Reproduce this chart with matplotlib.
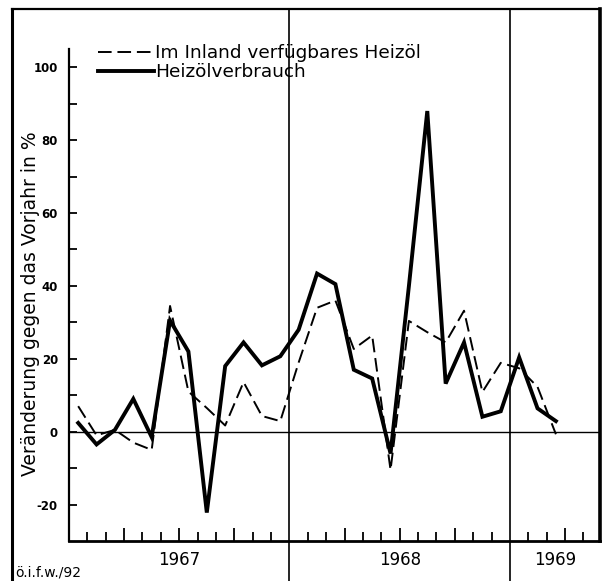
import numpy as np
import matplotlib
matplotlib.use("Agg")
import matplotlib.pyplot as plt
from matplotlib.lines import Line2D
from matplotlib.ticker import FixedLocator
from matplotlib import transforms

plt.rcParams["axes.unicode_minus"] = False

# --- Data (monthly change vs. previous year, %) Jan 1967 .. Mar 1969 ---
years = [1967, 1968, 1969]
heizoel_inland = [7, -1, 0.5, -3, -5, 34.5, 11, 6.5, 1.7, 13.6, 4.3, 2.9,
                  19, 34, 36, 22.7, 26.4, -10.5, 30.4, 27.3, 24.5, 33.2, 10.9, 18.9,
                  17.4, 12.3, -0.7]
heizoel_verbrauch = [2.4, -3.5, 0.5, 9, -1.5, 30.5, 22, -22.2, 18, 24.5, 18.2, 20.7,
                     28, 43.4, 40.5, 17, 14.6, -6, 40, 88, 13.2, 24.5, 4.1, 5.6,
                     20.4, 6.4, 2.9]
label_inland = "Im Inland verfügbares Heizöl"
label_verbrauch = "Heizölverbrauch"
ylabel = "Veränderung gegen das Vorjahr in %"
source = "ö.i.f.w./92"

W, H = 606, 581
x_max = 28.9
y_min, y_max = -30, 116

months = np.arange(len(heizoel_inland)) + 0.5

fig = plt.figure(figsize=(W / 100, H / 100), dpi=100)
ax = fig.add_axes([69 / W, 40 / H, 531 / W, 532 / H])

ax.plot(months, heizoel_inland, color="black", lw=1.4, ls=(0, (7, 3)),
        label=label_inland)
ax.plot(months, heizoel_verbrauch, color="black", lw=2.8,
        solid_joinstyle="miter", label=label_verbrauch)

ax.axhline(0, color="black", lw=1.0)
for k in range(1, len(years)):
    ax.axvline(12 * k, ymin=-40 / 532, ymax=1, color="black", lw=1.2, clip_on=False)

ax.set_xlim(0, x_max)
ax.set_ylim(y_min, y_max)

# spines
ax.spines["top"].set_visible(False)
ax.spines["left"].set_bounds(y_min, 105)
ax.spines["left"].set_linewidth(1.6)
ax.spines["bottom"].set_linewidth(2.0)
ax.spines["right"].set_linewidth(2.6)

# y ticks
ax.yaxis.set_major_locator(FixedLocator(np.arange(-20, 101, 20)))
ax.yaxis.set_minor_locator(FixedLocator(np.arange(-10, 91, 20)))
ax.tick_params(axis="y", which="both", direction="in", length=6, width=1.3, pad=8)
ax.tick_params(axis="y", labelsize=8.5)
for t in ax.get_yticklabels():
    t.set_fontweight("bold")

# x ticks: monthly, quarters longer
quarters = [m for m in range(3, int(x_max) + 1, 3) if m % 12 != 0]
ax.xaxis.set_major_locator(FixedLocator(quarters))
ax.xaxis.set_minor_locator(FixedLocator([m for m in range(1, int(x_max) + 1) if m % 3 != 0]))
ax.tick_params(axis="x", which="major", direction="in", length=9.5, width=1.3, labelbottom=False)
ax.tick_params(axis="x", which="minor", direction="in", length=6.5, width=1.3)

# year labels
trans = transforms.blended_transform_factory(ax.transData, ax.transAxes)
for k, yr in enumerate(years):
    left = 12 * k
    right = min(12 * (k + 1), x_max)
    ax.text((left + right) / 2, -0.036, str(yr), transform=trans,
            ha="center", va="center", fontsize=12)

ax.text(-0.073, 35, ylabel, transform=transforms.blended_transform_factory(ax.transAxes, ax.transData),
        rotation=90, ha="center", va="center", fontsize=13.5)

fig.text(15 / W, 1 - 572 / H, source, ha="left", va="center", fontsize=10)

leg = ax.legend(loc="upper left", bbox_to_anchor=(0.055, 0.934), frameon=False,
                handlelength=3.0, handletextpad=0.1, labelspacing=0.05,
                borderpad=0, borderaxespad=0, fontsize=13.3)

# outer frame
fig.add_artist(Line2D([12 / W, 12 / W], [0, 1 - 9 / H], color="black", lw=2.2,
                      transform=fig.transFigure))
fig.add_artist(Line2D([12 / W, 600 / W], [1 - 9 / H, 1 - 9 / H], color="black", lw=1.6,
                      transform=fig.transFigure))

fig.savefig("out.png", dpi=100)
